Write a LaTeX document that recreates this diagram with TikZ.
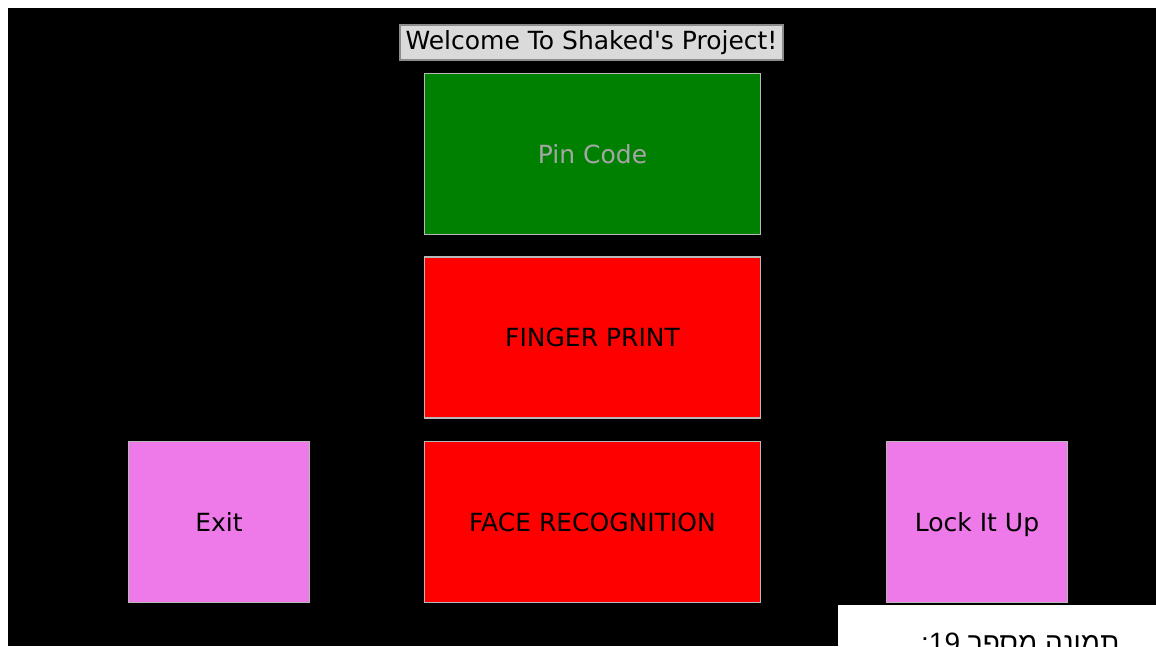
\documentclass[tikz,border=0pt]{standalone}
\usepackage{fontspec}
\setmainfont{DejaVu Sans}[Ligatures=TeXOff]
\newfontfamily\hebfont[Script=Hebrew]{Liberation Sans}
\TeXXeTstate=1
\definecolor{btngreen}{HTML}{008000}
\definecolor{btnred}{HTML}{FF0000}
\definecolor{btnviolet}{HTML}{EE7AE9}
\definecolor{btnedge}{HTML}{B8B8B8}
\definecolor{titlefill}{HTML}{DADADA}
\definecolor{titleedge}{HTML}{8C8C8C}
\definecolor{pintext}{HTML}{A6A6A6}
\tikzset{
  button/.style={draw=btnedge, line width=1.6pt, inner sep=0pt,
    font=\fontsize{25}{30}\selectfont, text=black,
    text height=18pt, text depth=0pt},
  widebutton/.style={button, minimum width=336pt, minimum height=161pt},
  squarebutton/.style={button, minimum width=181pt, minimum height=161pt},
  titlebar/.style={draw=titleedge, line width=1.2pt, fill=titlefill, inner sep=0pt,
    minimum width=383pt, minimum height=35pt, font=\fontsize{25}{30}\selectfont,
    text height=18pt, text depth=5pt},
}
\begin{document}
\begin{tikzpicture}[x=1pt, y=-1pt]
  \useasboundingbox (0,0) rectangle (1156,646);
  \clip (0,0) rectangle (1156,646);
  % page and window background
  \fill[white] (0,0) rectangle (1156,646);
  \fill[black] (8,8) rectangle (1156,646);

  % title label
  \node[titlebar] (title) at (591.5,42.5) {Welcome To Shaked's Project!};

  % authentication buttons
  \node[widebutton, fill=btngreen, text=pintext] (pin) at (592.5,154) {Pin Code};
  \node[widebutton, fill=btnred] (finger) at (592.5,337.5) {FINGER PRINT};
  \node[widebutton, fill=btnred] (face) at (592.5,522) {FACE RECOGNITION};

  % side buttons
  \node[squarebutton, fill=btnviolet] (exit) at (219,522) {Exit};
  \node[squarebutton, fill=btnviolet] (lock) at (977,522) {Lock It Up};

  % caption strip
  \fill[white] (838,605) rectangle (1156,646);
  \node[anchor=base west, inner sep=0pt, font=\hebfont\fontsize{28}{32}\selectfont]
    (caption) at (921,652) {\beginR תמונה מספר \beginL19\endL:\endR};
\end{tikzpicture}
\end{document}
